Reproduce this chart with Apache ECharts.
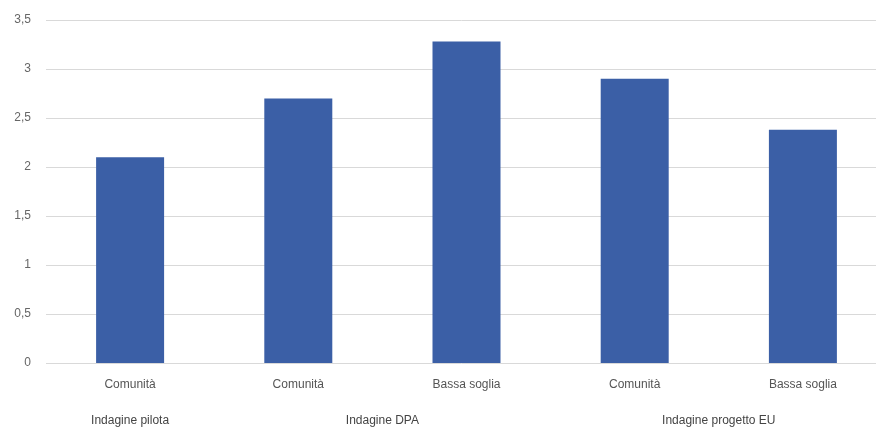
<!DOCTYPE html>
<html><head><meta charset="utf-8">
<script src="https://cdn.jsdelivr.net/npm/echarts@6/dist/echarts.min.js"></script>
<style>html,body{margin:0;padding:0;background:#fff}#c{width:876px;height:430px}</style>
</head><body><div id="c"></div>
<script>
var categories = ['Comunità', 'Comunità', 'Bassa soglia', 'Comunità', 'Bassa soglia'];
var values = [2.1, 2.7, 3.28, 2.9, 2.38];
var groupLabels = ['Indagine pilota', 'Indagine DPA', 'Indagine progetto EU'];
var groupCenters = [0.5, 2, 4];
var yTicks = [0, 0.5, 1, 1.5, 2, 2.5, 3, 3.5];

var chart = echarts.init(document.getElementById('c'), null, {renderer: 'canvas'});
chart.setOption({
  animation: false,
  backgroundColor: '#fff',
  grid: {left: 46, width: 841, top: 20, bottom: 67, outerBoundsMode: 'none', containLabel: false},
  xAxis: [{
    type: 'category', data: categories,
    axisLine: {show: false}, axisTick: {show: false},
    axisLabel: {color: '#555', fontSize: 12, fontFamily: 'Liberation Sans', margin: 16}
  }, {
    type: 'value', min: 0, max: 5, interval: 0.5, position: 'bottom',
    axisLine: {show: false}, axisTick: {show: false}, splitLine: {show: false},
    axisLabel: {
      color: '#444', fontSize: 12, fontFamily: 'Liberation Sans', margin: 52,
      showMinLabel: true, showMaxLabel: true,
      formatter: function (v) {
        var i = groupCenters.indexOf(v);
        return i >= 0 ? groupLabels[i] : '';
      }
    }
  }],
  yAxis: {
    type: 'value', min: yTicks[0], max: yTicks[yTicks.length - 1], interval: 0.5,
    axisLine: {show: false}, axisTick: {show: false},
    axisLabel: {color: '#666', fontSize: 12, fontFamily: 'Liberation Sans', margin: 15,
      formatter: function (v) { return String(v).replace('.', ','); }},
    splitLine: {lineStyle: {color: '#d9d9d9', width: 1}}
  },
  series: [{
    type: 'bar', data: values, xAxisIndex: 0, barWidth: 68,
    itemStyle: {color: '#3b5fa6'}
  }]
});
</script></body></html>
